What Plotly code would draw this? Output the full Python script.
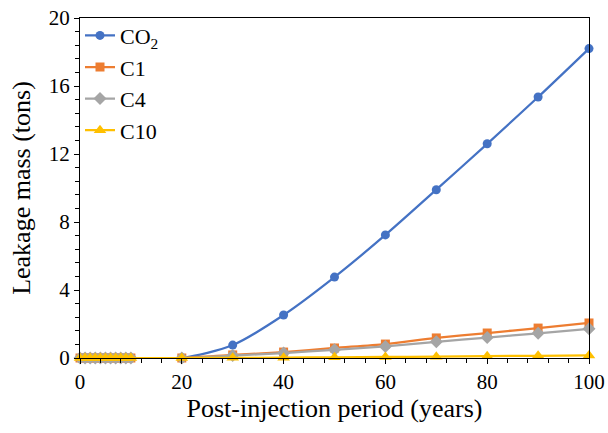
import plotly.graph_objects as go

# Post-injection years and leaked mass per component (tons)
years = [0, 1, 2, 3, 4, 5, 6, 7, 8, 9, 10, 20, 30, 40, 50, 60, 70, 80, 90, 100]
co2 = [0, 0, 0, 0, 0, 0, 0, 0, 0, 0, 0, 0, 0.76, 2.53, 4.76, 7.24, 9.9, 12.6, 15.35, 18.2]
c1 = [0, 0, 0, 0, 0, 0, 0, 0, 0, 0, 0, 0, 0.18, 0.35, 0.59, 0.82, 1.18, 1.47, 1.76, 2.06]
c4 = [0, 0, 0, 0, 0, 0, 0, 0, 0, 0, 0, 0, 0.14, 0.29, 0.48, 0.68, 0.95, 1.2, 1.45, 1.72]
c10 = [0, 0, 0, 0, 0, 0, 0, 0, 0, 0, 0, 0, 0.01, 0.02, 0.04, 0.06, 0.08, 0.11, 0.13, 0.15]

series = [
    ("CO<sub>2</sub>", co2, "#4472C4", "circle", 9),
    ("C1", c1, "#ED7D31", "square", 9),
    ("C4", c4, "#A5A5A5", "diamond", 10),
    ("C10", c10, "#FFC000", "triangle-up", 11),
]

x_ticks = [0, 20, 40, 60, 80, 100]
y_ticks = [0, 4, 8, 12, 16, 20]

fig = go.Figure()
for name, vals, color, symbol, size in series:
    fig.add_trace(go.Scatter(
        x=years, y=vals, name=name, mode="lines+markers",
        line=dict(color=color, width=2.25, shape="spline", smoothing=0.8),
        marker=dict(color=color, symbol=symbol, size=size),
        cliponaxis=False,
    ))

serif = "Liberation Serif, Times New Roman, serif"

fig.update_layout(
    width=608, height=433,
    margin=dict(l=80, r=19, t=18, b=75, autoexpand=False),
    paper_bgcolor="white", plot_bgcolor="white",
    font=dict(family=serif, size=21, color="#000000"),
    showlegend=True,
    legend=dict(
        x=0.0, y=1.01, xanchor="left", yanchor="top",
        bgcolor="rgba(0,0,0,0)", font=dict(size=22),
        tracegroupgap=0, itemwidth=30,
    ),
    xaxis=dict(
        range=[0, 100], tickvals=x_ticks, showgrid=False, zeroline=False,
        automargin=False,
        showline=True, linecolor="#000000", linewidth=1.2, mirror=True,
        ticks="outside", ticklen=5, tickcolor="#000000",
        minor=dict(dtick=4, ticks="outside", ticklen=4, tickcolor="#000000"),
        title=dict(text="Post-injection period (years)", font=dict(size=26), standoff=5),
        tickfont=dict(size=21),
    ),
    yaxis=dict(
        range=[0, 20], tickvals=y_ticks, showgrid=False, zeroline=False,
        automargin=False,
        showline=True, linecolor="#000000", linewidth=1.2, mirror=True,
        ticks="outside", ticklen=5, tickcolor="#000000",
        minor=dict(dtick=0.8, ticks="outside", ticklen=4, tickcolor="#000000"),
        title=dict(text="Leakage mass (tons)", font=dict(size=26), standoff=10),
        tickfont=dict(size=21),
    ),
)

fig.write_html("out.html")
